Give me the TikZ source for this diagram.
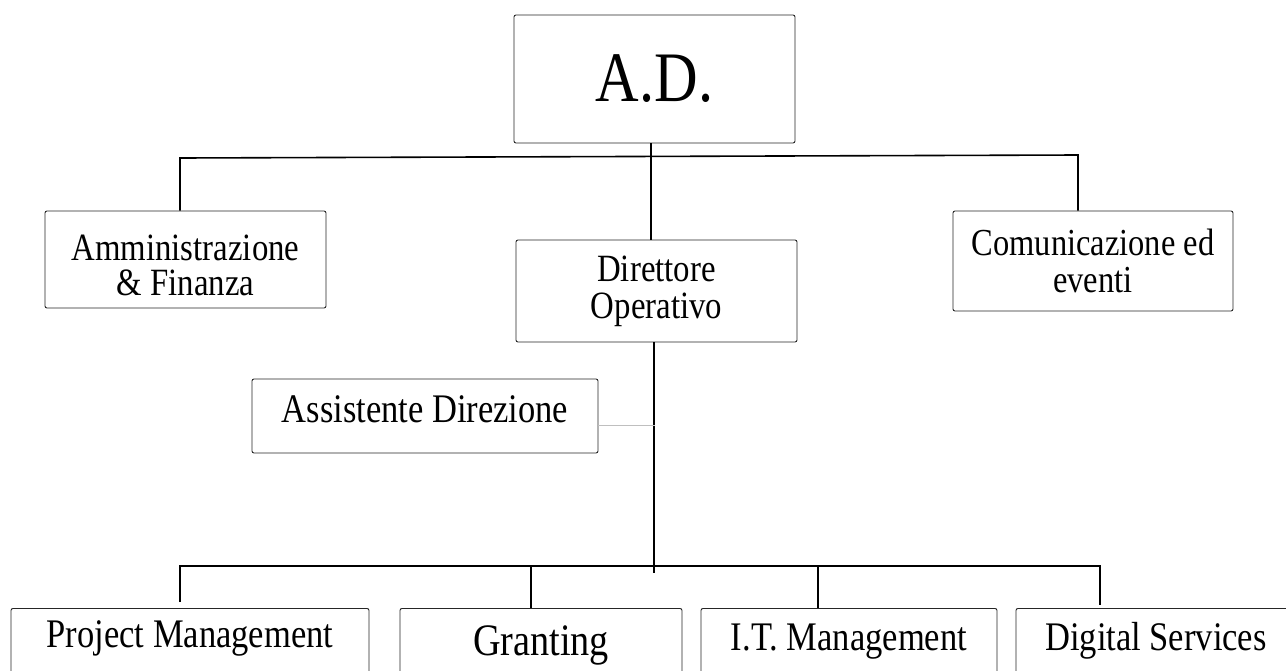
\documentclass[tikz,border=0pt]{standalone}
\usepackage{fontspec}
\setmainfont{Liberation Serif}[FakeStretch=0.85]
\begin{document}
\begin{tikzpicture}[x=1pt,y=-1pt,
    unit/.style={draw=black!85,line width=0.9pt,rounded corners=2pt,align=center,inner sep=0pt},
    lower/.style={unit,anchor=north,inner ysep=13pt,text depth=60pt,font=\fontsize{40.6}{40}\selectfont},
    link/.style={line width=1.6pt}]
\useasboundingbox (0,0) rectangle (1286,670);
\clip (0,0) rectangle (1286,670);
\node[unit,minimum width=281,minimum height=128,font=\fontsize{71}{71}\selectfont] (ad) at (654.5,79) {A.D.};
\node[unit,minimum width=281,minimum height=97,font=\fontsize{38.6}{35}\selectfont] (amm) at (185.5,259.5) {\rule{0pt}{37pt}Amministrazione\\\& Finanza};
\node[unit,minimum width=281,minimum height=102,font=\fontsize{38.6}{37}\selectfont] (dir) at (656.5,291) {Direttore\\Operativo};
\node[unit,minimum width=280,minimum height=100,font=\fontsize{38.2}{37}\selectfont] (com) at (1093,261) {Comunicazione ed\\eventi};
\node[unit,minimum width=346,minimum height=74,text height=27pt,text depth=14pt,font=\fontsize{40.6}{40}\selectfont] (ass) at (425,416) {Assistente Direzione};
\node[lower,minimum width=358,text height=26pt] (pm) at (190,608) {Project Management};
\node[lower,minimum width=282,text height=34pt,font=\fontsize{45}{45}\selectfont] (gra) at (541,608) {Granting};
\node[lower,minimum width=296,text height=29pt] (itm) at (849,608) {I.T. Management};
\node[lower,minimum width=280,text height=29pt] (dig) at (1156,608) {Digital Services};
\coordinate (tl) at (180,158);
\coordinate (tr) at (1078,155);
\coordinate (tm) at (651,157);
\coordinate (bm) at (654,573);
\coordinate (aj) at (655,425);
\coordinate (bl) at (180,566);
\coordinate (br) at (1100,566);
\coordinate (gx) at (531,566);
\coordinate (ix) at (818,566);
\draw[link] (amm.north -| tl) -- (tl) -- (tr) -- (com.north -| tr);
\draw[link] (ad.south -| tm) -- (dir.north -| tm);
\draw[link] (dir.south -| bm) -- (bm);
\draw[gray!50,line width=1pt] (ass.east |- aj) -- (aj);
\draw[link] ([yshift=6pt]pm.north -| bl) -- (bl) -- (br) -- ([yshift=3pt]dig.north -| br);
\draw[link] (gx) -- (gra.north -| gx);
\draw[link] (ix) -- (itm.north -| ix);
\end{tikzpicture}
\end{document}
